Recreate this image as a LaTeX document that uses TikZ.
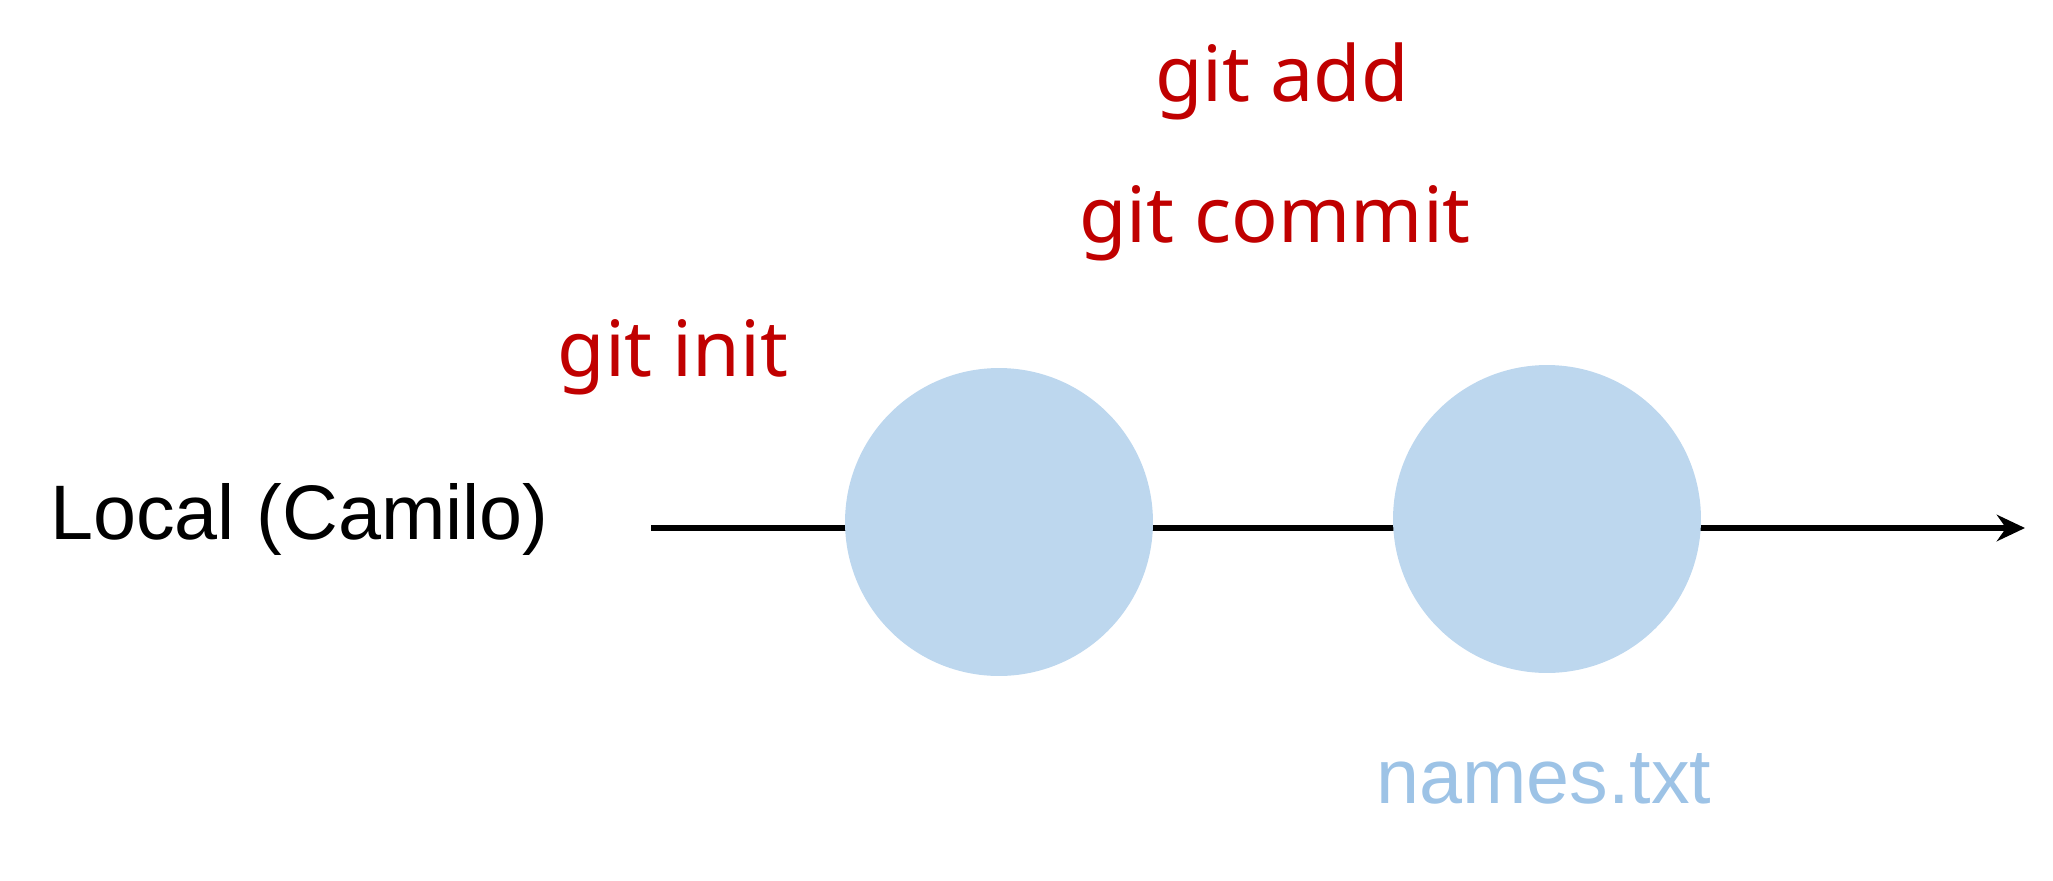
\documentclass[tikz,border=0pt]{standalone}
\usepackage{fontspec}
\setmainfont{Liberation Sans}
\newfontfamily\cmdfont{Noto Sans}
\usetikzlibrary{arrows.meta}
\definecolor{cmdred}{HTML}{C00000}
\definecolor{commitblue}{HTML}{BDD7EE}
\definecolor{fileblue}{HTML}{9DC3E6}

\begin{document}
\begin{tikzpicture}[
  x=0.02cm, y=-0.02cm,
  lbl/.style={inner sep=0, font=\fontsize{44}{48}\selectfont},
  cmd/.style={inner sep=0, text=cmdred, font=\cmdfont\fontsize{44}{48}\selectfont},
  commit/.style={circle, fill=commitblue, minimum size=6.16cm, inner sep=0},
  timeline/.style={line width=3.8pt, -{Stealth[length=16pt, width=15pt]}}
]
\useasboundingbox (0,0) rectangle (2053,880);
\coordinate (start) at (651,528);
\coordinate (tip) at (2025,528);
\draw[timeline] (start) -- (tip);

\node[commit] (c1) at (999,522) {};
\node[commit] (c2) at (1547,519) {};

\node[lbl, anchor=base west] (local) at (50,539) {Local (Camilo)};
\node[cmd, anchor=base] (init) at (673,376) {git init};
\node[cmd, anchor=base] (commitcmd) at (1275,242) {git commit};
\node[cmd, anchor=base] (add) at (1282,101) {git add};
\node[lbl, text=fileblue, anchor=base west] (file) at (1376,803) {names.txt};
\end{tikzpicture}
\end{document}
